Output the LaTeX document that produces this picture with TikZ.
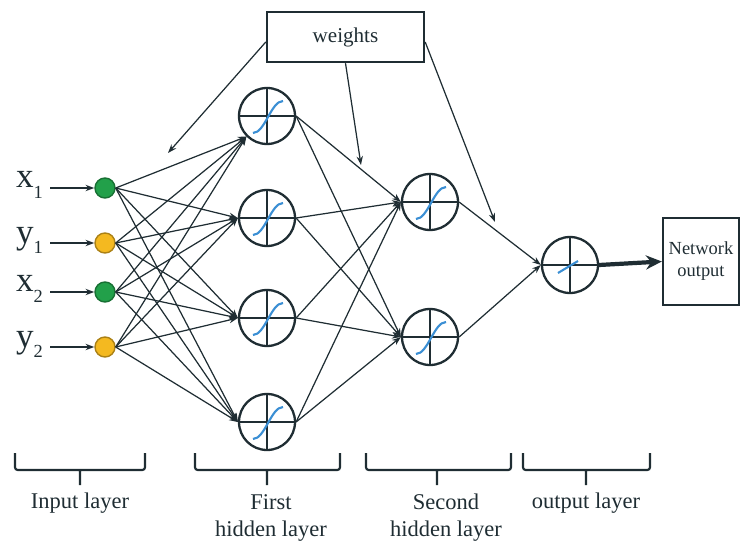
\documentclass[tikz,border=0pt]{standalone}
\usepackage{fontspec}
\setmainfont{Liberation Serif}
\usetikzlibrary{positioning,arrows.meta,calc}
\definecolor{netInk}{HTML}{1F2D33}
\definecolor{inGreen}{HTML}{22A04A}
\definecolor{inYellow}{HTML}{F4B920}
\definecolor{sigBlue}{HTML}{3B8FD4}

\begin{document}
\begin{tikzpicture}[x=0.02cm, y=-0.02cm, >={Stealth[length=5pt,width=3.6pt]},
      unit/.style={draw=netInk, line width=1.3pt, circle, minimum size=1.12cm, inner sep=0pt, fill=white},
      inp/.style={circle, minimum size=0.4cm, inner sep=0pt, line width=0.8pt},
      conn/.style={->, netInk, line width=0.7pt},
      inlbl/.style={font=\fontsize{20}{20}\selectfont, text=netInk, inner sep=1pt},
      lbl/.style={font=\fontsize{12.8}{15.3}\selectfont, align=center, text=netInk},
      brace/.style={netInk, line width=1.2pt, rounded corners=1.5pt}]
    \useasboundingbox (0,0) rectangle (741,544);
    % ---- input layer
    \foreach \i/\y/\c in {1/188/inGreen, 2/243/inYellow, 3/292/inGreen, 4/347/inYellow}
      \node[inp, fill=\c, draw=\c!70!black] (in\i) at (105,\y) {};
    \foreach \i/\v/\s/\y in {1/x/1/188, 2/y/1/243, 3/x/2/292, 4/y/2/347} {
      \node[inlbl, anchor=base east] (l\i) at (45,\y) {\v\raisebox{-6pt}{\fontsize{10.5}{10.5}\selectfont\s}};
      \draw[->, netInk, line width=0.8pt, shorten <=3pt] (l\i.base east) -- (in\i.west);
    }
    % ---- hidden layers and output unit
    \foreach \i/\y in {1/116, 2/218, 3/318, 4/422} { \node[unit] (h\i) at (267,\y) {}; }
    \foreach \i/\y in {1/202, 2/337} { \node[unit] (s\i) at (430,\y) {}; }
    \node[unit] (o) at (570,265) {};
    \foreach \n in {h1,h2,h3,h4,s1,s2,o} {
      \draw[netInk, line width=1pt] (\n.north) -- (\n.south) (\n.west) -- (\n.east);
    }
    \foreach \n in {h1,h2,h3,h4,s1,s2} {
      \draw[sigBlue, line width=1.2pt] ($(\n)+(-14,17)$) .. controls +(12,0) and +(-12,0) .. ($(\n)+(16,-15)$);
    }
    \draw[sigBlue, line width=1.2pt] ($(o)+(-12,8)$) -- ($(o)+(8,-4)$);
    % ---- connections
    \foreach \i in {1,...,4} {
      \draw[conn] (in\i.east) -- (h1.225);
      \foreach \j in {2,3,4} { \draw[conn] (in\i.east) -- (h\j.west); }
      \foreach \j in {1,2} { \draw[conn] (h\i.east) -- (s\j.west); }
    }
    \foreach \j in {1,2} { \draw[conn] (s\j.east) -- (o.west); }
    % ---- weights
    \node[draw=netInk, line width=1.4pt, minimum width=3.14cm, minimum height=1cm, font=\fontsize{12}{14}\selectfont, text=netInk] (w) at (345.5,37) {weights};
    \coordinate (wa) at (168,153);
    \coordinate (wb) at (361,165);
    \coordinate (wc) at (495,222);
    \draw[conn] ($(w.west)+(0,5)$) -- (wa);
    \draw[conn] (w.south) -- (wb);
    \draw[conn] ($(w.east)+(0,5)$) -- (wc);
    % ---- network output
    \node[draw=netInk, line width=1.2pt, minimum width=1.52cm, minimum height=1.74cm, align=center, font=\fontsize{10.5}{12.5}\selectfont, text=netInk] (net) at (701,261.5) {Network\\output};
    \draw[-{Stealth[length=9pt,width=8pt]}, netInk, line width=2.4pt] (o.east) -- (net.west);
    % ---- layer brackets
    \foreach \a/\b/\m in {15/145/80, 195/340/267, 366/511/437, 523/650/586} {
      \draw[brace] (\a,453) -- (\a,470) -- (\b,470) -- (\b,453) (\m,470) -- (\m,485);
    }
    \node[lbl] (t1) at (80,503) {Input layer};
    \node[lbl] (t2) at (271,518) {First\\hidden layer};
    \node[lbl] (t3) at (446,518) {Second\\hidden layer};
    \node[lbl] (t4) at (586,503) {output layer};
  \end{tikzpicture}
\end{document}
